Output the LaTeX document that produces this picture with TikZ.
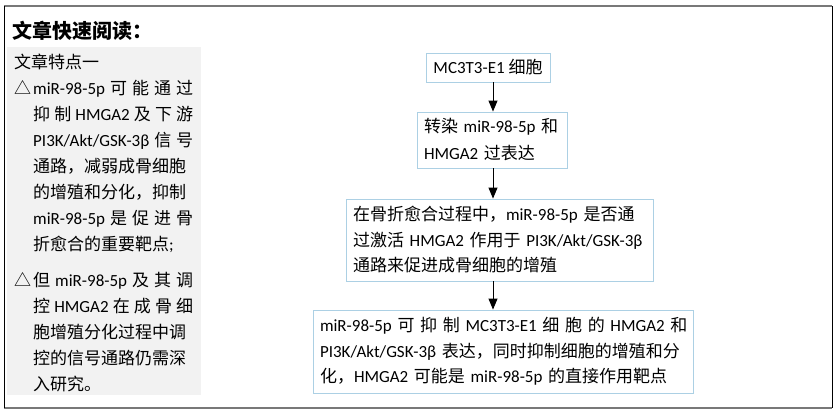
\documentclass[tikz,border=0pt]{standalone}
\usepackage{fontspec}
\setmainfont{Noto Sans CJK SC}
\newfontfamily\latin{Carlito}
\usetikzlibrary{arrows.meta}
\definecolor{box_blue}{RGB}{172, 208, 228}
\definecolor{panel_grey}{RGB}{242, 242, 242}
\definecolor{frame_grey}{RGB}{120, 120, 120}
\setlength{\parindent}{0pt}
\newcommand{\en}[1]{{\latin #1}}
\newcommand{\spread}[2]{\makebox[#1][s]{#2}}
\tikzstyle{bn}=[rectangle,draw=box_blue,line width=0.9pt,inner xsep=7pt,
  inner ysep=0pt,align=left,font=\fontsize{17}{25.5}\selectfont]
\tikzstyle{tn}=[inner sep=0pt,anchor=base west,font=\fontsize{17}{26}\selectfont]
\tikzstyle{ar}=[-{Triangle[length=11pt,width=9pt]},line width=0.9pt]

\begin{document}
\begin{tikzpicture}[x=1pt, y=-1pt]
            \useasboundingbox (0, 0) rectangle (839, 415);
            \fill [panel_grey] (7, 47) rectangle (201, 395);
            \draw [frame_grey, line width=1.6pt] (4, 6) -- (832, 6);
            \draw [frame_grey, line width=1.6pt] (4, 408) -- (832, 408);
            \draw [black, line width=0.9pt] (4, 6) -- (4, 408);
            \draw [black, line width=0.9pt] (832, 6) -- (832, 408);
            \node [style=tn, font=\bfseries\fontsize{20}{24}\selectfont] (0) at (12, 38) {文章快速阅读：};
            \node [style=tn] (1) at (14, 68.6) {文章特点一};
            \node [style=tn] (2) at (14, 94.6) {\makebox[19pt][l]{△}\parbox[t]{160pt}{%
              \spread{160pt}{\en{miR-98-5p} 可 能 通 过}\\
              \spread{160pt}{抑 制 \en{HMGA2} 及 下 游}\\
              \spread{160pt}{\en{PI3K/Akt/GSK-3β} 信 号}\\
              通路，减弱成骨细胞\\
              的增殖和分化，抑制\\
              \spread{160pt}{\en{miR-98-5p} 是 促 进 骨}\\
              折愈合的重要靶点\en{;}}};
            \node [style=tn] (3) at (14, 286.6) {\makebox[19pt][l]{△}\parbox[t]{160pt}{%
              \spread{160pt}{但 \en{miR-98-5p} 及 其 调}\\
              \spread{160pt}{控 \en{HMGA2} 在 成 骨 细}\\
              胞增殖分化过程中调\\
              控的信号通路仍需深\\
              入研究。}};
            \node [style=bn, align=center, minimum width=124pt, minimum height=29pt] (4) at (488, 67.5) {\en{MC3T3-E1} 细胞};
            \node [style=bn, text width=136pt, minimum height=56pt, font=\fontsize{17}{27}\selectfont] (5) at (492, 140) {%
              \spread{136pt}{转染 \en{miR-98-5p} 和}\\
              \en{HMGA2} 过表达};
            \node [style=bn, text width=293pt, minimum height=82pt] (6) at (499.5, 240) {%
              在骨折愈合过程中，\en{miR-98-5p} 是否通\\
              \spread{293pt}{过激活 \en{HMGA2} 作用于 \en{PI3K/Akt/GSK-3β}}\\
              通路来促进成骨细胞的增殖};
            \node [style=bn, text width=366pt, minimum height=83pt] (7) at (503, 351.5) {%
              \spread{366pt}{\en{miR-98-5p} 可 抑 制 \en{MC3T3-E1} 细 胞 的 \en{HMGA2} 和}\\
              \spread{366pt}{\en{PI3K/Akt/GSK-3β} 表达，同时抑制细胞的增殖和分}\\
              化，\en{HMGA2} 可能是 \en{miR-98-5p} 的直接作用靶点};
            \coordinate (8) at (493, 0);
            \draw [style=ar] (4.south -| 8) to (5.north -| 8);
            \draw [style=ar] (5.south -| 8) to (6.north -| 8);
            \draw [style=ar] (6.south -| 8) to (7.north -| 8);
    \end{tikzpicture}
\end{document}
